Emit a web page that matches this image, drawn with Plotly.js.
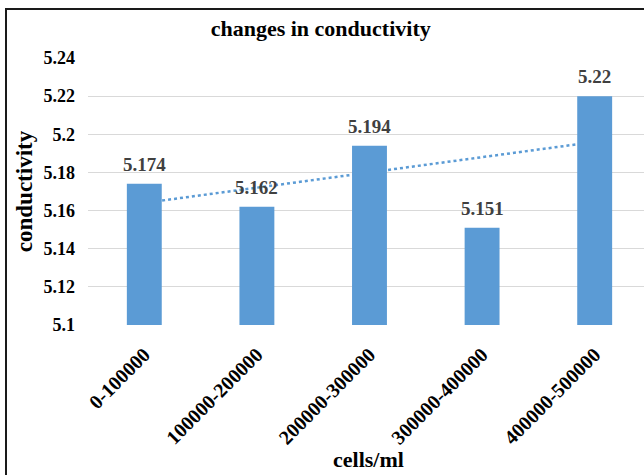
<!DOCTYPE html>
<html>
<head>
<meta charset="utf-8">
<script src="https://cdn.plot.ly/plotly-3.0.1.min.js"></script>
<style>
  html, body { margin: 0; padding: 0; background: #fff; }
  #wrap { position: relative; width: 644px; height: 475px; overflow: hidden; }
  #chart { width: 644px; height: 475px; }
  #frame { position: absolute; left: 5px; top: 8px; width: 700px; height: 600px;
           border-left: 2px solid #1a1a1a; border-top: 2px solid #1a1a1a; pointer-events: none; }
</style>
</head>
<body>
<div id="wrap">
  <div id="chart"></div>
  <div id="frame"></div>
</div>
<script>
// Data
const categories = ['0-100000', '100000-200000', '200000-300000', '300000-400000', '400000-500000'];
const conductivity = [5.174, 5.162, 5.194, 5.151, 5.22];
const labels = ['5.174', '5.162', '5.194', '5.151', '5.22'];
// Linear trendline end points (first and last category)
const trendCategories = ['0-100000', '400000-500000'];
const trendValues = [5.164, 5.196];
const xTitle = 'cells/ml';
const yTitle = 'conductivity';
const chartTitle = 'changes in conductivity';

const FONT = 'Liberation Serif, Times New Roman, serif';
const BLUE = '#5B9BD5';

const trend = {
  type: 'scatter', mode: 'lines',
  x: trendCategories, y: trendValues,
  xaxis: 'x', yaxis: 'y',
  line: { color: BLUE, width: 2.5, dash: 'dot' },
  hoverinfo: 'skip', showlegend: false
};

const bars = {
  type: 'bar',
  x: categories, y: conductivity,
  xaxis: 'x2', yaxis: 'y2',
  marker: { color: BLUE },
  showlegend: false
};

const yRange = [5.1, 5.24];
const xRange = [-0.5, 4.438];

const annotations = categories.map((c, i) => ({
  x: c, y: conductivity[i], xref: 'x', yref: 'y',
  text: labels[i], showarrow: false,
  yanchor: 'bottom', yshift: 7,
  font: { family: FONT, size: 19, color: '#404040', weight: 700 }
}));
annotations.push({
  x: 0.505, y: -0.502, xref: 'paper', yref: 'paper',
  xanchor: 'center', yanchor: 'middle',
  text: xTitle, showarrow: false,
  font: { family: FONT, size: 22, color: '#000', weight: 700 }
});

const layout = {
  width: 644, height: 475,
  margin: { l: 88, r: 0, t: 58, b: 150 },
  paper_bgcolor: '#ffffff', plot_bgcolor: '#ffffff',
  bargap: 0.69,
  title: {
    text: chartTitle,
    font: { family: FONT, size: 22, color: '#000', weight: 700 },
    xref: 'container', x: 0.498, xanchor: 'center',
    yref: 'container', y: 0.941, yanchor: 'middle'
  },
  xaxis: {
    type: 'category', categoryorder: 'array', categoryarray: categories,
    range: xRange, showgrid: false, zeroline: false, showline: false,
    tickangle: -45, ticks: '',
    ticklabelstandoff: 13,
    tickfont: { family: FONT, size: 20, color: '#000', weight: 700 }
  },
  yaxis: {
    range: yRange, dtick: 0.02, tick0: 5.1,
    showgrid: true, gridcolor: '#D9D9D9', gridwidth: 1,
    zeroline: false, showline: false, ticks: '',
    ticklabelstandoff: 12,
    tickfont: { family: FONT, size: 18, color: '#000', weight: 700 },
    title: { text: yTitle, font: { family: FONT, size: 23, color: '#000', weight: 700 }, standoff: 4 }
  },
  xaxis2: {
    type: 'category', categoryorder: 'array', categoryarray: categories,
    range: xRange, overlaying: 'x', matches: 'x', visible: false
  },
  yaxis2: {
    range: yRange, overlaying: 'y', matches: 'y', visible: false
  },
  annotations: annotations
};

Plotly.newPlot('chart', [trend, bars], layout, { displayModeBar: false, staticPlot: true });
</script>
</body>
</html>
